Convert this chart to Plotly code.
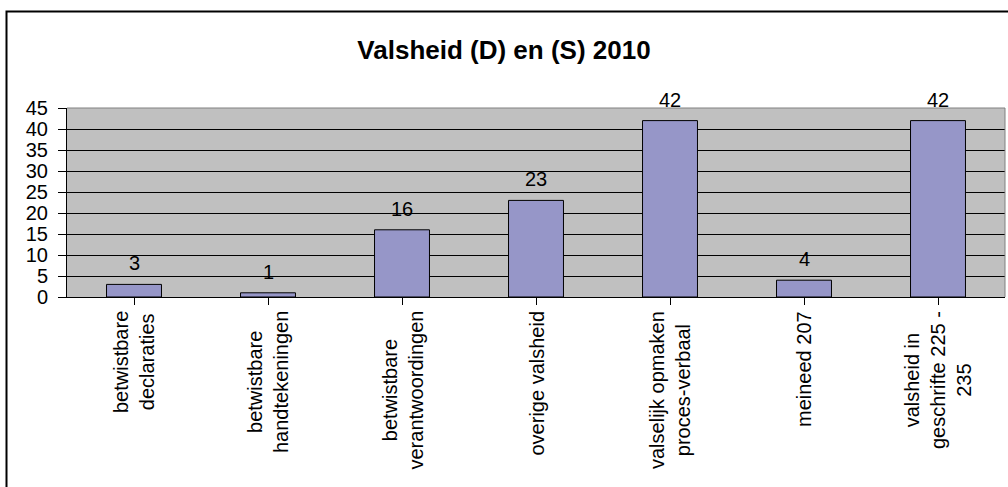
import plotly.graph_objects as go

# Chart data
categories = [
    "betwistbare\ndeclaraties",
    "betwistbare\nhandtekeningen",
    "betwistbare\nverantwoordingen",
    "overige valsheid",
    "valselijk opmaken\nproces-verbaal",
    "meineed 207",
    "valsheid in\ngeschrifte 225 -\n235",
]
counts = [3, 1, 16, 23, 42, 4, 42]
y_ticks = [0, 5, 10, 15, 20, 25, 30, 35, 40, 45]
title_text = "Valsheid (D) en (S) 2010"

FONT = "Arial, Liberation Sans, sans-serif"
W, H = 1008, 487
ML, MR, MT, MB = 67, 3, 108, 190
PW = W - ML - MR
PH = H - MT - MB

fig = go.Figure()
fig.add_trace(go.Bar(
    x=list(range(len(categories))),
    y=counts,
    marker=dict(color="#9696C8", line=dict(color="black", width=1)),
    width=0.41,
    hoverinfo="x+y",
))

annotations = []
# value labels above each bar
for i, v in enumerate(counts):
    annotations.append(dict(
        x=i, y=v, xref="x", yref="y", text=str(v), showarrow=False,
        yanchor="bottom", yshift=8, font=dict(family=FONT, size=20, color="black"),
    ))

# rotated, centre-aligned category labels under the axis
for i, lab in enumerate(categories):
    annotations.append(dict(
        x=i, y=-12 / PH, xref="x", yref="paper", text=lab.replace("\n", "<br>"),
        showarrow=False, textangle=-90, xanchor="center", yanchor="top",
        align="center", font=dict(family=FONT, size=20, color="black"),
    ))

shapes = [
    # top and right edges of the plot area
    dict(type="line", xref="paper", yref="paper", x0=0, x1=1, y0=1, y1=1,
         line=dict(color="#808080", width=1)),
    dict(type="line", xref="paper", yref="paper", x0=1, x1=1, y0=0, y1=1,
         line=dict(color="#808080", width=1)),
    # outer chart frame
    dict(type="path", xref="paper", yref="paper",
         path=f"M {(6.5 - ML) / PW} -1.2 L {(6.5 - ML) / PW} {1 + (MT - 11.5) / PH} L 1.2 {1 + (MT - 11.5) / PH}",
         line=dict(color="black", width=2)),
]

fig.update_layout(
    width=W, height=H,
    margin=dict(l=ML, r=MR, t=MT, b=MB, pad=0),
    paper_bgcolor="white",
    plot_bgcolor="#C0C0C0",
    showlegend=False,
    title=dict(text="<b>" + title_text + "</b>", x=0.5, xanchor="center",
               y=1 - 50 / H, yanchor="middle",
               font=dict(family=FONT, size=26, color="black")),
    font=dict(family=FONT, size=20, color="black"),
    annotations=annotations,
    shapes=shapes,
    xaxis=dict(
        range=[-0.5, len(categories) - 0.5],
        tickmode="array", tickvals=list(range(len(categories))),
        ticktext=[""] * len(categories),
        tickson="boundaries", ticks="outside", ticklen=7, tickcolor="black",
        showline=True, linecolor="black", linewidth=1,
        showgrid=False, zeroline=False, fixedrange=True,
    ),
    yaxis=dict(
        range=[0, 45], tickmode="array", tickvals=y_ticks,
        ticktext=[str(t) for t in y_ticks],
        ticks="outside", ticklen=8, tickcolor="black",
        ticklabelstandoff=6,
        showline=True, linecolor="black", linewidth=1,
        showgrid=True, gridcolor="black", gridwidth=1,
        zeroline=False, fixedrange=True,
        tickfont=dict(family=FONT, size=20, color="black"),
    ),
)

fig.write_html("out.html")
